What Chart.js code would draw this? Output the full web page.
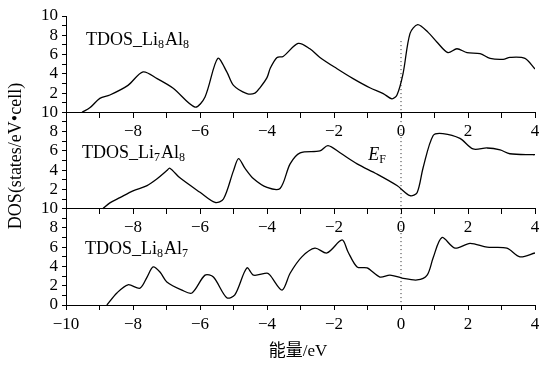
<!DOCTYPE html>
<html>
<head>
<meta charset="utf-8">
<script src="https://cdn.jsdelivr.net/npm/chart.js@4/dist/chart.umd.min.js"></script>
<style>
  body { margin: 0; background: #fff; }
  #wrap { width: 539px; height: 368px; }
</style>
</head>
<body>
<div id="wrap"><canvas id="grafico" width="539" height="368"></canvas></div>
<script>
// energia (eV) e DOS de cada painel
const xLi8Al8 = [-9.52,-9.28,-8.99,-8.69,-8.15,-7.7,-7.28,-6.8,-6.15,-5.85,-5.47,-5.2,-5.0,-4.6,-4.36,-4.2,-4.0,-3.9,-3.7,-3.52,-3.07,-2.72,-2.42,-1.92,-1.43,-0.93,-0.53,-0.27,-0.12,0.06,0.27,0.5,0.81,1.07,1.4,1.67,1.97,2.36,2.66,3.05,3.25,3.7,4.0];
const yLi8Al8 = [0,0.5,1.45,1.8,2.8,4.2,3.5,2.5,0.55,1.6,5.6,4.2,2.8,1.95,2.0,2.6,3.6,4.6,5.7,5.8,7.15,6.6,5.7,4.55,3.5,2.55,1.95,1.4,1.8,4.0,8.2,9.1,8.3,7.3,6.2,6.6,6.2,6.1,5.6,5.5,5.7,5.6,4.5];

const xLi7Al8 = [-8.9,-8.69,-8.39,-8.0,-7.58,-7.28,-6.99,-6.9,-6.6,-6.0,-5.55,-5.3,-5.0,-4.85,-4.66,-4.4,-4.0,-3.61,-3.31,-3.01,-2.42,-2.18,-1.82,-1.31,-0.72,-0.12,0.27,0.48,0.66,0.96,1.25,1.76,2.15,2.57,2.96,3.25,3.94,4.0];
const yLi7Al8 = [0,0.6,1.15,1.85,2.4,3.1,3.95,4.2,3.2,1.7,0.65,1.0,3.95,5.2,4.2,3.1,2.2,2.1,4.65,5.8,6.0,6.55,5.8,4.65,3.6,2.4,1.35,1.65,4.25,7.6,7.8,7.3,6.2,6.3,6.1,5.7,5.6,5.6];

const xLi8Al7 = [-8.78,-8.48,-8.15,-7.79,-7.58,-7.4,-7.19,-6.99,-6.54,-6.24,-5.85,-5.6,-5.2,-4.96,-4.6,-4.4,-4.0,-3.91,-3.55,-3.31,-2.96,-2.57,-2.21,-1.76,-1.58,-1.31,-1.01,-0.63,-0.33,0.03,0.48,0.78,0.96,1.22,1.61,2.06,2.57,3.16,3.55,4.0];
const yLi8Al7 = [0,1.25,2.1,1.75,2.9,3.95,3.4,2.4,1.55,1.25,3.1,2.9,0.75,1.05,3.85,3.1,3.3,3.1,1.55,3.3,5.0,5.9,5.4,6.75,5.5,3.95,3.85,2.9,3.1,2.8,2.6,3.1,4.9,7.0,5.9,6.4,6.0,5.9,5.0,5.4];

// deslocamento vertical de cada painel (cada um ocupa 0..10)
const offsetTopo = 20;
const offsetMeio = 10;
const offsetBase = 0;

const xMin = -10;
const xMax = 4;

const SERIF = '"Liberation Serif", "DejaVu Serif", serif';

function montarPontos(xs, ys, offset) {
    return xs.map((x, i) => ({ x: x, y: ys[i] + offset }));
}

function rotuloX(v) {
    if (v % 2 !== 0) return '';
    return v < 0 ? '\u2212' + Math.abs(v) : String(v);
}

function rotuloY(v) {
    if (v % 2 !== 0) return '';
    if (v === 0) return '0';
    if (v % 10 === 0) return '10';
    return String(v % 10);
}

function eixoX(posicao, mostrarMenos10) {
    return {
        type: 'linear',
        position: posicao,
        min: xMin,
        max: xMax,
        grid: { drawOnChartArea: false, drawTicks: true, tickLength: 5, color: '#000', lineWidth: 1 },
        border: { display: true, color: '#000', width: 1 },
        ticks: {
            stepSize: 1,
            autoSkip: false,
            maxRotation: 0,
            color: '#000',
            padding: 4,
            font: { family: SERIF, size: 17 },
            callback: (v) => (!mostrarMenos10 && v === -10) ? '' : rotuloX(v)
        },
        afterFit: (s) => { s.paddingLeft = 0; s.paddingRight = 0; }
    };
}

// textos com subscrito
function textoComSub(ctx, x, y, partes, tam) {
    let cx = x;
    partes.forEach(p => {
        const sub = p[1];
        ctx.font = (p[2] ? 'italic ' : '') + (sub ? Math.round(tam * 0.68) : tam) + 'px ' + SERIF;
        ctx.fillText(p[0], cx, sub ? y + tam * 0.18 : y);
        cx += ctx.measureText(p[0]).width + (sub ? 1 : 0);
    });
}

const rotulosPlugin = {
    id: 'rotulos',
    afterDraw(chart) {
        const ctx = chart.ctx;
        const sx = chart.scales.x;
        const sy = chart.scales.y;
        ctx.save();
        ctx.fillStyle = '#000';
        ctx.textAlign = 'left';
        ctx.textBaseline = 'alphabetic';

        textoComSub(ctx, sx.getPixelForValue(-9.4), sy.getPixelForValue(27.0),
            [['TDOS_Li'], ['8', true], ['Al'], ['8', true]], 18);
        textoComSub(ctx, sx.getPixelForValue(-9.52), sy.getPixelForValue(15.3),
            [['TDOS_Li'], ['7', true], ['Al'], ['8', true]], 18);
        textoComSub(ctx, sx.getPixelForValue(-9.43), sy.getPixelForValue(5.3),
            [['TDOS_Li'], ['8', true], ['Al'], ['7', true]], 18);
        textoComSub(ctx, sx.getPixelForValue(-0.98), sy.getPixelForValue(15.06),
            [['E', false, true], ['F', true]], 18);

        // titulos dos eixos
        ctx.textAlign = 'center';
        ctx.textBaseline = 'middle';
        ctx.font = '17px ' + SERIF + ', "Noto Sans CJK SC"';
        ctx.fillText('能量/eV', 298, 352);

        ctx.translate(16, 156);
        ctx.rotate(-Math.PI / 2);
        ctx.font = '18px ' + SERIF;
        ctx.fillText('DOS(states/eV\u2022cell)', 0, 0);
        ctx.restore();
    }
};

const estiloLinha = {
    borderColor: '#000',
    borderWidth: 1.3,
    pointRadius: 0,
    tension: 0.3,
    fill: false
};

new Chart(document.getElementById('grafico'), {
    type: 'line',
    data: {
        datasets: [
            Object.assign({ label: 'Li8Al8', data: montarPontos(xLi8Al8, yLi8Al8, offsetTopo) }, estiloLinha),
            Object.assign({ label: 'Li7Al8', data: montarPontos(xLi7Al8, yLi7Al8, offsetMeio) }, estiloLinha),
            Object.assign({ label: 'Li8Al7', data: montarPontos(xLi8Al7, yLi8Al7, offsetBase) }, estiloLinha),
            {
                label: 'EF',
                data: [{ x: 0, y: 0.3 }, { x: 0, y: 27.5 }],
                borderColor: '#222',
                borderWidth: 1,
                borderDash: [1, 3],
                pointRadius: 0,
                tension: 0
            }
        ]
    },
    options: {
        responsive: false,
        animation: false,
        events: [],
        layout: { padding: { top: 16, right: 4, left: 0, bottom: 0 } },
        plugins: {
            legend: { display: false },
            tooltip: { enabled: false }
        },
        scales: {
            x: Object.assign(eixoX('bottom', true), {
                afterFit: (s) => { s.height = 63; s.paddingLeft = 0; s.paddingRight = 0; }
            }),
            x2: eixoX({ y: offsetTopo }, false),
            x3: eixoX({ y: offsetMeio }, false),
            y: {
                type: 'linear',
                min: 0,
                max: 30,
                grid: { drawOnChartArea: false, drawTicks: true, tickLength: 4, color: '#000', lineWidth: 1 },
                border: { display: true, color: '#000', width: 1 },
                ticks: {
                    stepSize: 1,
                    autoSkip: false,
                    color: '#000',
                    padding: 4,
                    font: { family: SERIF, size: 17 },
                    callback: rotuloY
                },
                afterFit: (s) => { s.width = 66; }
            }
        }
    },
    plugins: [rotulosPlugin]
});
</script>
</body>
</html>
